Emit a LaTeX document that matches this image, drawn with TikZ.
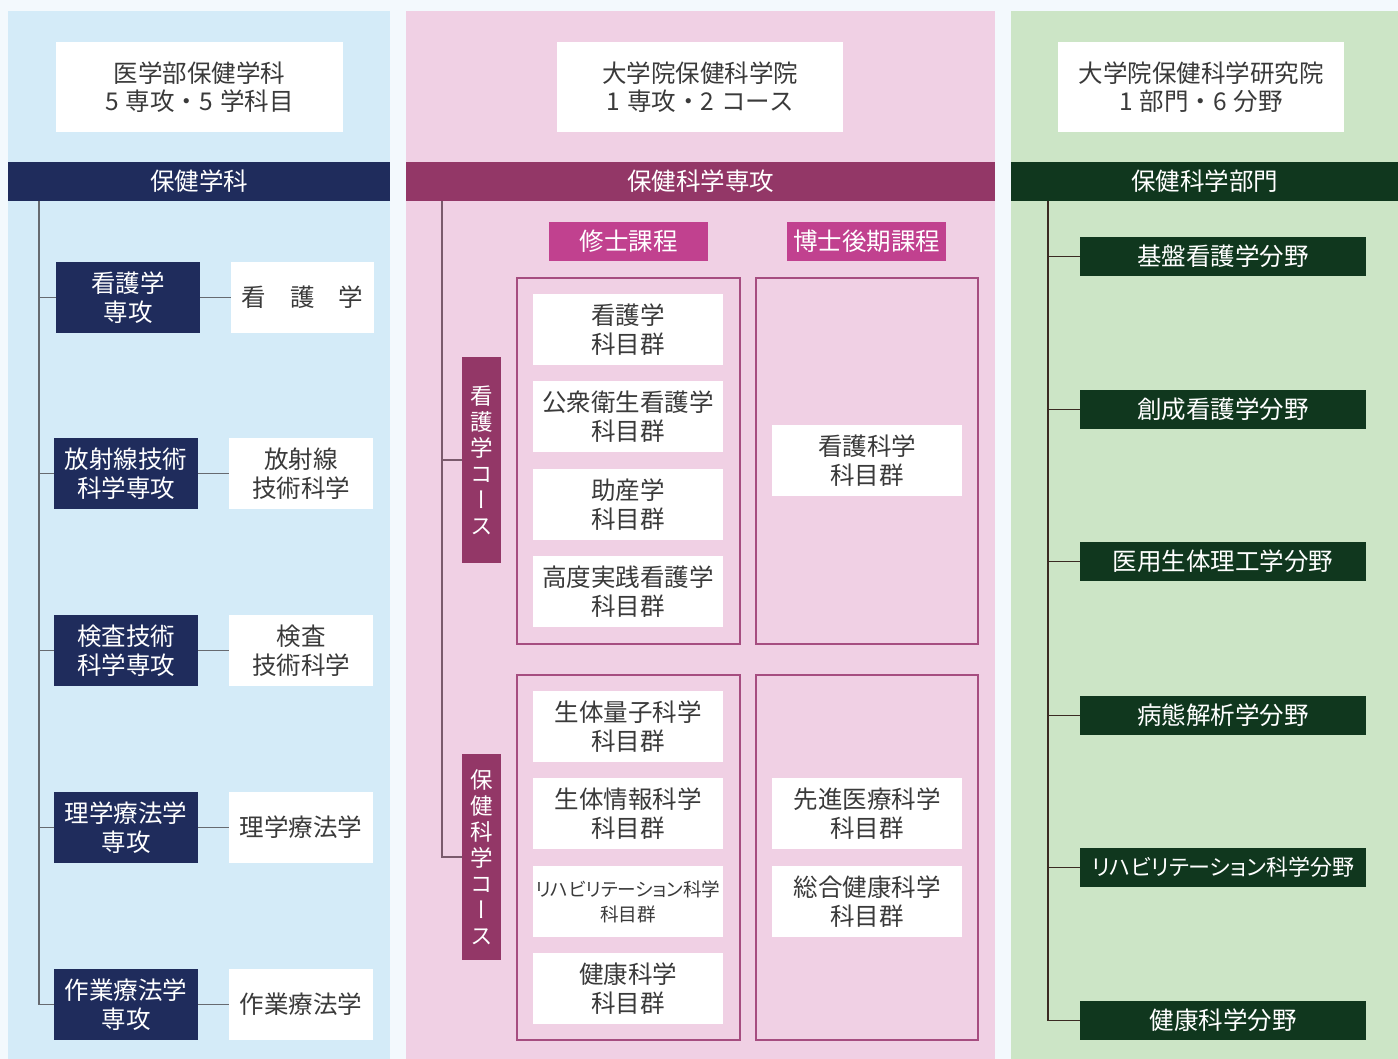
\documentclass[tikz,border=0pt]{standalone}
\usepackage{fontspec}
\setmainfont{Noto Sans CJK JP}
\newfontfamily\jpp[RawFeature=+palt]{Noto Sans CJK JP}
\newfontfamily\jpv[RawFeature=+vert]{Noto Sans CJK JP}
\definecolor{outbg}{HTML}{F3F9FD}
\definecolor{bluebg}{HTML}{D4EBF8}
\definecolor{navy}{HTML}{1F2C5C}
\definecolor{pinkbg}{HTML}{F0D0E4}
\definecolor{maroon}{HTML}{933767}
\definecolor{magenta}{HTML}{C1418F}
\definecolor{frame}{HTML}{A64D80}
\definecolor{greenbg}{HTML}{CCE5C6}
\definecolor{dgreen}{HTML}{10371E}
\definecolor{txt}{HTML}{3A3A3A}
\definecolor{lgrey}{HTML}{666A70}
\definecolor{lmaroon}{HTML}{7A5A6C}
\definecolor{lbrown}{HTML}{3A2A22}
\newcommand\mkbox[7]{\node[#1, minimum width=#5pt, minimum height=#6pt] (#2) at (#3,#4) {#7};}
\tikzset{
  box/.style={inner sep=0pt, outer sep=0pt, anchor=north west, align=center, font=\fontsize{24.5}{28.5}\selectfont},
  wbox/.style={box, fill=white, text=txt},
  nbox/.style={box, fill=navy, text=white},
  mband/.style={box, fill=maroon, text=white},
  gbox/.style={box, fill=dgreen, text=white},
  mlabel/.style={box, fill=magenta, text=white},
  framebox/.style={box, draw=frame, line width=2pt},
  vbox/.style={box, fill=maroon, text=white, font=\jpv\fontsize{22.5}{26}\selectfont},
  conn/.style={line width=1.3pt}
}
\begin{document}
\begin{tikzpicture}[x=1pt,y=-1pt]
\useasboundingbox (0,0) rectangle (1398,1059);
\fill[outbg] (0,0) rectangle (1398,1059);
% panels
\fill[bluebg] (8,11) rectangle (390,1059);
\fill[pinkbg] (406,11) rectangle (995,1059);
\fill[greenbg] (1011,11) rectangle (1398,1059);

% ===== left panel =====
\mkbox{wbox}{lh}{56}{42}{287}{90}{医学部保健学科\\5\hspace{7pt}専攻・5\hspace{7pt}学科目}
\mkbox{nbox}{lband}{8}{162}{382}{39}{保健学科}
\mkbox{nbox}{ld1}{56}{262}{144}{71}{看護学\\専攻}
\mkbox{wbox}{lw1}{231}{262}{143}{71}{看\hspace{24pt}護\hspace{24pt}学}
\mkbox{nbox}{ld2}{54}{438}{144}{71}{放射線技術\\科学専攻}
\mkbox{wbox}{lw2}{229}{438}{144}{71}{放射線\\技術科学}
\mkbox{nbox}{ld3}{54}{615}{144}{71}{検査技術\\科学専攻}
\mkbox{wbox}{lw3}{229}{615}{144}{71}{検査\\技術科学}
\mkbox{nbox}{ld4}{54}{792}{144}{71}{理学療法学\\専攻}
\mkbox{wbox}{lw4}{229}{792}{144}{71}{理学療法学}
\mkbox{nbox}{ld5}{54}{969}{144}{71}{作業療法学\\専攻}
\mkbox{wbox}{lw5}{229}{969}{144}{71}{作業療法学}
\coordinate (ltop) at (39,201);
\draw[conn, lgrey] (ltop) |- (ld5.west);
\foreach \i in {1,2,3,4}{\draw[conn, lgrey] (ltop |- ld\i.west) -- (ld\i.west);}
\foreach \i in {1,2,3,4,5}{\draw[conn, lgrey] (ld\i.east) -- (lw\i.west);}

% ===== middle panel =====
\mkbox{wbox}{mh}{557}{42}{286}{90}{大学院保健科学院\\1\hspace{7pt}専攻・2\hspace{7pt}コース}
\mkbox{mband}{mband}{406}{162}{589}{39}{保健科学専攻}
\mkbox{mlabel}{shu}{549}{222}{159}{39}{修士課程}
\mkbox{mlabel}{haku}{787}{222}{159}{39}{博士後期課程}
\mkbox{framebox}{f1}{517}{278}{223}{366}{}
\mkbox{framebox}{f2}{756}{278}{222}{366}{}
\mkbox{framebox}{f3}{517}{675}{223}{365}{}
\mkbox{framebox}{f4}{756}{675}{222}{365}{}
\mkbox{vbox}{c1}{462}{357}{39}{206}{看\\護\\学\\コ\\ー\\ス}
\mkbox{vbox}{c2}{462}{754}{39}{206}{保\\健\\科\\学\\コ\\ー\\ス}
\mkbox{wbox}{a1}{533}{294}{190}{71}{看護学\\科目群}
\mkbox{wbox}{a2}{533}{381}{190}{71}{公衆衛生看護学\\科目群}
\mkbox{wbox}{a3}{533}{469}{190}{71}{助産学\\科目群}
\mkbox{wbox}{a4}{533}{556}{190}{71}{高度実践看護学\\科目群}
\mkbox{wbox}{b1}{772}{425}{190}{71}{看護科学\\科目群}
\mkbox{wbox}{a5}{533}{691}{190}{71}{生体量子科学\\科目群}
\mkbox{wbox}{a6}{533}{778}{190}{71}{生体情報科学\\科目群}
\node[wbox, minimum width=190pt, minimum height=71pt, font=\jpp\fontsize{18.6}{25}\selectfont] (a7) at (533,866) {リハビリテーション科学\\科目群};
\mkbox{wbox}{a8}{533}{953}{190}{71}{健康科学\\科目群}
\mkbox{wbox}{b2}{772}{778}{190}{71}{先進医療科学\\科目群}
\mkbox{wbox}{b3}{772}{866}{190}{71}{総合健康科学\\科目群}
\coordinate (mtop) at (442,201);
\draw[conn, lmaroon] (mtop) |- (c2.west);
\draw[conn, lmaroon] (mtop |- c1.west) -- (c1.west);

% ===== right panel =====
\mkbox{wbox}{rh}{1058}{42}{286}{90}{大学院保健科学研究院\\1\hspace{7pt}部門・6\hspace{7pt}分野}
\mkbox{gbox}{rband}{1011}{162}{387}{39}{保健科学部門}
\mkbox{gbox}{r1}{1080}{237}{286}{39}{基盤看護学分野}
\mkbox{gbox}{r2}{1080}{390}{286}{39}{創成看護学分野}
\mkbox{gbox}{r3}{1080}{542}{286}{39}{医用生体理工学分野}
\mkbox{gbox}{r4}{1080}{696}{286}{39}{病態解析学分野}
\node[gbox, minimum width=286pt, minimum height=39pt, font=\jpp\fontsize{22}{27}\selectfont] (r5) at (1080,848) {リハビリテーション科学分野};
\mkbox{gbox}{r6}{1080}{1001}{286}{39}{健康科学分野}
\coordinate (rtop) at (1048,201);
\draw[conn, lbrown] (rtop) |- (r6.west);
\foreach \i in {1,2,3,4,5}{\draw[conn, lbrown] (rtop |- r\i.west) -- (r\i.west);}
\end{tikzpicture}
\end{document}
